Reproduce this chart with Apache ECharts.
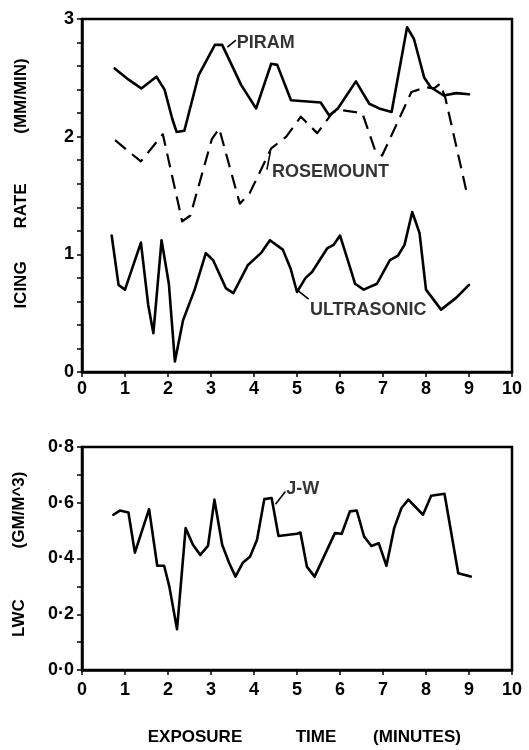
<!DOCTYPE html>
<html>
<head>
<meta charset="utf-8">
<script src="https://cdn.jsdelivr.net/npm/echarts@6/dist/echarts.min.js"></script>
<style>
html,body{margin:0;padding:0;background:#fff;}
#chart{width:529px;height:750px;}
</style>
</head>
<body>
<div id="chart"></div>
<script>
// ---- data ----
const xTicks = [0, 1, 2, 3, 4, 5, 6, 7, 8, 9, 10];

const piramX = [0.76, 1.1, 1.38, 1.73, 1.92, 2.1, 2.2, 2.38, 2.71, 3.09, 3.26, 3.7, 4.05, 4.4, 4.54, 4.86, 5.55, 5.75, 5.95, 6.37, 6.68, 6.91, 7.2, 7.56, 7.72, 7.96, 8.11, 8.41, 8.7, 9.0];
const piramY = [2.58, 2.48, 2.41, 2.51, 2.4, 2.15, 2.04, 2.05, 2.52, 2.78, 2.78, 2.44, 2.24, 2.62, 2.61, 2.31, 2.29, 2.18, 2.24, 2.47, 2.28, 2.24, 2.21, 2.93, 2.83, 2.5, 2.42, 2.35, 2.37, 2.36];

const roseX = [0.77, 1.03, 1.37, 1.88, 2.33, 2.52, 3.02, 3.19, 3.67, 3.9, 4.4, 4.75, 5.09, 5.47, 5.82, 5.96, 6.52, 6.82, 6.98, 7.31, 7.66, 8.0, 8.19, 8.33, 8.45, 8.95];
const roseY = [1.97, 1.89, 1.79, 2.02, 1.28, 1.33, 1.98, 2.07, 1.43, 1.52, 1.9, 2.0, 2.17, 2.03, 2.2, 2.23, 2.2, 1.88, 1.84, 2.1, 2.38, 2.42, 2.41, 2.45, 2.33, 1.52];

const ultraX = [0.69, 0.85, 1.0, 1.37, 1.54, 1.66, 1.85, 2.02, 2.16, 2.35, 2.62, 2.88, 3.05, 3.35, 3.52, 3.86, 4.16, 4.37, 4.67, 4.85, 5.0, 5.2, 5.35, 5.7, 5.85, 6.0, 6.19, 6.35, 6.55, 6.86, 7.16, 7.35, 7.5, 7.68, 7.85, 8.0, 8.35, 8.7, 9.0];
const ultraY = [1.16, 0.74, 0.70, 1.10, 0.57, 0.33, 1.12, 0.75, 0.09, 0.44, 0.70, 1.01, 0.95, 0.71, 0.67, 0.91, 1.01, 1.12, 1.04, 0.88, 0.68, 0.80, 0.85, 1.05, 1.08, 1.16, 0.94, 0.75, 0.70, 0.75, 0.95, 0.99, 1.08, 1.36, 1.18, 0.70, 0.53, 0.63, 0.74];

const jwX = [0.73, 0.88, 1.08, 1.23, 1.56, 1.75, 1.91, 2.03, 2.21, 2.41, 2.58, 2.75, 2.93, 3.08, 3.26, 3.42, 3.57, 3.74, 3.91, 4.07, 4.24, 4.41, 4.57, 5.0, 5.08, 5.23, 5.41, 5.88, 6.04, 6.23, 6.39, 6.56, 6.73, 6.9, 7.08, 7.26, 7.43, 7.59, 7.93, 8.12, 8.43, 8.75, 9.04];
const jwY = [0.557, 0.572, 0.565, 0.421, 0.577, 0.374, 0.374, 0.30, 0.146, 0.509, 0.449, 0.413, 0.445, 0.611, 0.449, 0.385, 0.335, 0.385, 0.407, 0.467, 0.613, 0.617, 0.481, 0.489, 0.493, 0.371, 0.335, 0.491, 0.489, 0.569, 0.572, 0.479, 0.445, 0.455, 0.374, 0.509, 0.581, 0.611, 0.557, 0.625, 0.632, 0.347, 0.335];

// annotation labels: name, label anchor (x,y), leader line start (x,y) -> end (x,y)
const labelNames = ['PIRAM', 'ROSEMOUNT', 'ULTRASONIC', 'J-W'];
const labelPanel = [0, 0, 0, 1];
const labelX = [3.6, 4.42, 5.3, 4.75];
const labelY = [2.80, 1.70, 0.53, 0.65];
const leaderX0 = [3.38, 4.38, 5.03, 4.5];
const leaderY0 = [2.76, 1.87, 0.69, 0.595];
const leaderX1 = [3.58, 4.3, 5.27, 4.73];
const leaderY1 = [2.82, 1.72, 0.62, 0.64];

// ---- build ----
const zip = (xs, ys) => xs.map((x, i) => [x, ys[i]]);
const FONT = "'Liberation Sans', Arial, sans-serif";
const black = '#000';

function xAxisFor(gi, margin) {
  return {
    type: 'value', gridIndex: gi, min: 0, max: 10, interval: 1,
    axisLine: {show: true, onZero: false, lineStyle: {color: black, width: 2.5}},
    axisTick: {show: true, inside: false, length: 5, lineStyle: {color: black, width: 1.5}},
    axisLabel: {color: black, fontFamily: FONT, fontWeight: 'bold', fontSize: 18, margin: margin,
      formatter: v => xTicks.indexOf(v) >= 0 ? String(v) : ''},
    splitLine: {show: false}
  };
}

const option = {
  backgroundColor: '#fff',
  animation: false,
  grid: [
    {left: 82, top: 19, width: 430, height: 353, show: true, borderColor: black, borderWidth: 2.5, containLabel: false},
    {left: 82, top: 447, width: 430, height: 223, show: true, borderColor: black, borderWidth: 2.5, containLabel: false}
  ],
  xAxis: [xAxisFor(0, 8), xAxisFor(1, 11)],
  yAxis: [
    {
      type: 'value', gridIndex: 0, min: 0, max: 3, interval: 0.2,
      axisLine: {show: true, onZero: false, lineStyle: {color: black, width: 2.5}},
      axisTick: {show: true, inside: false, length: 5, lineStyle: {color: black, width: 1.5}},
      axisLabel: {color: black, fontFamily: FONT, fontWeight: 'bold', fontSize: 18, margin: 8,
        formatter: v => Math.abs(v - Math.round(v)) < 1e-6 ? String(Math.round(v)) : ''},
      splitLine: {show: false}
    },
    {
      type: 'value', gridIndex: 1, min: 0, max: 0.8, interval: 0.1,
      axisLine: {show: true, onZero: false, lineStyle: {color: black, width: 2.5}},
      axisTick: {show: true, inside: false, length: 5, lineStyle: {color: black, width: 1.5}},
      axisLabel: {color: black, fontFamily: FONT, fontWeight: 'bold', fontSize: 18, margin: 8,
        formatter: v => { const t = Math.round(v * 10); return t % 2 === 0 ? (t / 10).toFixed(1).replace('.', '\u00B7') : ''; }},
      splitLine: {show: false}
    }
  ],
  series: [
    {name: 'PIRAM', type: 'line', xAxisIndex: 0, yAxisIndex: 0, data: zip(piramX, piramY), symbol: 'none',
      lineStyle: {color: black, width: 2.6, join: 'round', cap: 'round'}},
    {name: 'ROSEMOUNT', type: 'line', xAxisIndex: 0, yAxisIndex: 0, data: zip(roseX, roseY), symbol: 'none',
      lineStyle: {color: black, width: 2.2, type: [14, 8], join: 'round'}},
    {name: 'ULTRASONIC', type: 'line', xAxisIndex: 0, yAxisIndex: 0, data: zip(ultraX, ultraY), symbol: 'none',
      lineStyle: {color: black, width: 2.6, join: 'round', cap: 'round'}},
    {name: 'J-W', type: 'line', xAxisIndex: 1, yAxisIndex: 1, data: zip(jwX, jwY), symbol: 'none',
      lineStyle: {color: black, width: 2.6, join: 'round', cap: 'round'}}
  ],
  graphic: []
};

// leader lines and annotation text
labelNames.forEach((nm, i) => {
  const p = labelPanel[i];
  option.series.push({
    type: 'line', xAxisIndex: p, yAxisIndex: p, symbol: 'none', silent: true,
    data: [[leaderX0[i], leaderY0[i]], [leaderX1[i], leaderY1[i]]],
    lineStyle: {color: black, width: 1.6}
  });
  option.series.push({
    type: 'scatter', xAxisIndex: p, yAxisIndex: p, symbolSize: 0, silent: true,
    data: [{value: [labelX[i], labelY[i]], name: nm}],
    label: {show: true, position: 'right', distance: 0, formatter: '{b}', color: black,
      fontFamily: FONT, fontWeight: 'bold', fontSize: 18}
  });
});

// axis titles
const titleStyle = {fill: black, font: "bold 17px 'Liberation Sans', Arial, sans-serif", textAlign: 'center', textVerticalAlign: 'middle'};
function vText(txt, x, y) {
  return {type: 'text', x: x, y: y, rotation: Math.PI / 2, style: Object.assign({text: txt}, titleStyle)};
}
function hText(txt, x, y) {
  return {type: 'text', x: x, y: y, style: Object.assign({text: txt}, titleStyle)};
}
option.graphic.push(vText('(MM/MIN)', 21, 96));
option.graphic.push(vText('RATE', 21, 206));
option.graphic.push(vText('ICING', 21, 285));
option.graphic.push(vText('(GM/M^3)', 19, 510));
option.graphic.push(vText('LWC', 19, 618));
option.graphic.push(hText('EXPOSURE', 195, 737));
option.graphic.push(hText('TIME', 316, 737));
option.graphic.push(hText('(MINUTES)', 417, 737));

const chart = echarts.init(document.getElementById('chart'), null, {renderer: 'canvas'});
chart.setOption(option);
</script>
</body>
</html>
